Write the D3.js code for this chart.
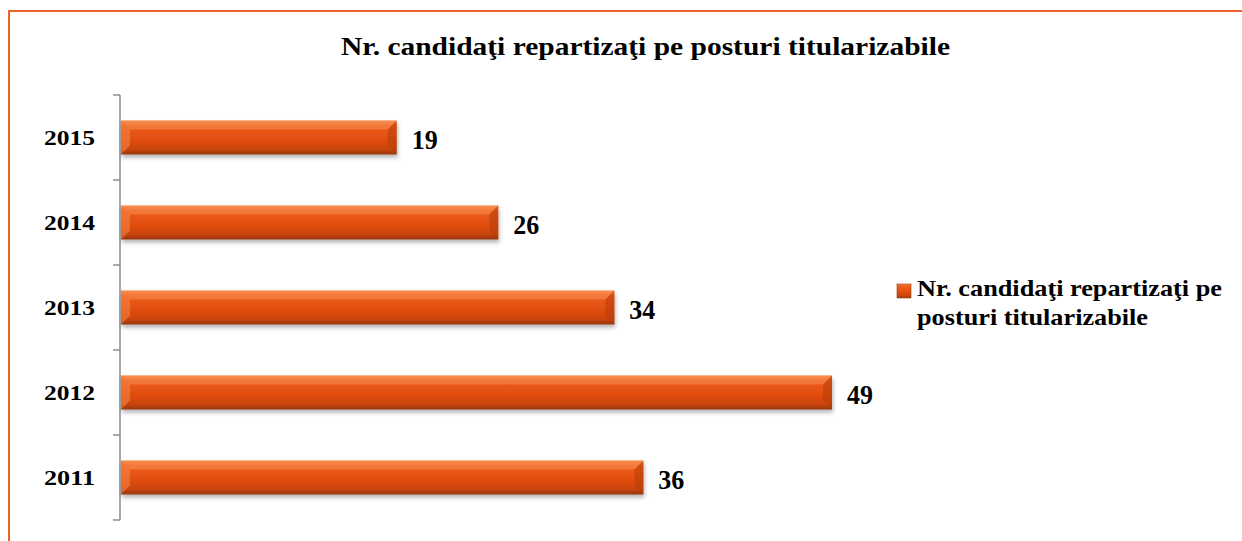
<!DOCTYPE html>
<html>
<head>
<meta charset="utf-8">
<script src="https://cdn.jsdelivr.net/npm/d3@7"></script>
<style>
  body { margin: 0; background: #fff; }
  svg text { font-family: "Liberation Serif", "Times New Roman", serif; font-weight: bold; fill: #000; }
</style>
</head>
<body>
<script>
const years = ['2015', '2014', '2013', '2012', '2011'];
const values = [19, 26, 34, 49, 36];
const seriesName = 'Nr. candidaţi repartizaţi pe posturi titularizabile';
const legendLines = ['Nr. candidaţi repartizaţi pe', 'posturi titularizabile'];

const width = 1242, height = 541;

const svg = d3.select('body')
  .append('svg')
  .attr('width', width)
  .attr('height', height);

// chart frame (only left and top edges are inside the picture)
svg.append('path')
  .attr('d', 'M9,541 V11 H1242')
  .attr('fill', 'none')
  .attr('stroke', '#F0602A')
  .attr('stroke-width', 2);

const defs = svg.append('defs');
const grad = defs.append('linearGradient')
  .attr('id', 'barGrad')
  .attr('x1', 0).attr('y1', 0).attr('x2', 0).attr('y2', 1);
grad.append('stop').attr('offset', '0%').attr('stop-color', '#F7884A');
grad.append('stop').attr('offset', '15%').attr('stop-color', '#EE5E1C');
grad.append('stop').attr('offset', '60%').attr('stop-color', '#E04C0E');
grad.append('stop').attr('offset', '85%').attr('stop-color', '#C8440F');
grad.append('stop').attr('offset', '100%').attr('stop-color', '#963610');

const shadow = defs.append('filter')
  .attr('id', 'shadow')
  .attr('x', '-5%').attr('y', '-20%').attr('width', '110%').attr('height', '160%');
shadow.append('feDropShadow')
  .attr('dx', 1).attr('dy', 3).attr('stdDeviation', 2)
  .attr('flood-color', '#000').attr('flood-opacity', 0.3);

const x = d3.scaleLinear()
  .domain([0, 49])
  .range([121, 832]);

const y = d3.scaleBand()
  .domain(years)
  .range([95, 520])
  .padding(0);

const barH = y.bandwidth() * 0.4;

// category axis
const yAxis = d3.axisLeft(y)
  .tickSize(0)
  .tickFormat('');
const axisG = svg.append('g')
  .attr('transform', 'translate(120,0)')
  .call(yAxis);
axisG.select('.domain').remove();
axisG.append('line')
  .attr('x1', 0).attr('x2', 0)
  .attr('y1', 95).attr('y2', 520)
  .attr('stroke', '#8c8c8c').attr('stroke-width', 1.5);
axisG.selectAll('.sep')
  .data(d3.range(years.length + 1))
  .enter()
  .append('line')
  .attr('x1', -7).attr('x2', 0)
  .attr('y1', i => 95 + i * y.step())
  .attr('y2', i => 95 + i * y.step())
  .attr('stroke', '#8c8c8c').attr('stroke-width', 1.5);

svg.selectAll('.ylab')
  .data(years)
  .enter()
  .append('text')
  .attr('x', 44)
  .attr('y', d => y(d) + y.bandwidth() / 2 + 7)
  .attr('textLength', 51)
  .attr('lengthAdjust', 'spacingAndGlyphs')
  .style('font-size', '22px')
  .text(d => d);

// bars
const data = years.map((yr, i) => ({ year: yr, value: values[i] }));
const bars = svg.selectAll('.bar')
  .data(data)
  .enter()
  .append('g')
  .attr('class', 'bar');

bars.append('rect')
  .attr('x', x(0))
  .attr('y', d => y(d.year) + (y.bandwidth() - barH) / 2)
  .attr('width', d => x(d.value) - x(0))
  .attr('height', barH)
  .attr('fill', 'url(#barGrad)')
  .attr('filter', 'url(#shadow)');

// bevel edges
const bev = 9;
bars.append('path')
  .attr('d', d => {
    const y0 = y(d.year) + (y.bandwidth() - barH) / 2, x0 = x(0);
    return `M${x0},${y0} L${x0 + bev},${y0 + bev} L${x0 + bev},${y0 + barH - bev} L${x0},${y0 + barH} Z`;
  })
  .attr('fill', '#F58648').attr('opacity', 0.55);
bars.append('path')
  .attr('d', d => {
    const y0 = y(d.year) + (y.bandwidth() - barH) / 2, x1 = x(d.value);
    return `M${x1},${y0} L${x1 - bev},${y0 + bev} L${x1 - bev},${y0 + barH - bev} L${x1},${y0 + barH} Z`;
  })
  .attr('fill', '#B23E0C').attr('opacity', 0.55);
bars.append('path')
  .attr('d', d => {
    const y0 = y(d.year) + (y.bandwidth() - barH) / 2, x0 = x(0), x1 = x(d.value);
    return `M${x0},${y0} L${x1},${y0} L${x1 - bev},${y0 + bev} L${x0 + bev},${y0 + bev} Z`;
  })
  .attr('fill', '#FA9A60').attr('opacity', 0.45);

bars.append('text')
  .attr('x', d => x(d.value) + 15)
  .attr('y', d => y(d.year) + y.bandwidth() / 2 + 11)
  .attr('textLength', 26)
  .attr('lengthAdjust', 'spacingAndGlyphs')
  .style('font-size', '27px')
  .text(d => d.value);

// title
svg.append('text')
  .attr('x', 341)
  .attr('y', 55)
  .attr('textLength', 609)
  .attr('lengthAdjust', 'spacingAndGlyphs')
  .style('font-size', '25px')
  .text(seriesName);

// legend
const leg = svg.append('g').attr('transform', 'translate(897,284)');
leg.append('rect')
  .attr('width', 14).attr('height', 14)
  .attr('fill', 'url(#barGrad)')
  .attr('stroke', '#A03A10').attr('stroke-width', 0.6);
const legLens = [305, 231];
leg.selectAll('text')
  .data(legendLines)
  .enter()
  .append('text')
  .attr('x', 20)
  .attr('y', (d, i) => 12 + i * 29)
  .attr('textLength', (d, i) => legLens[i])
  .attr('lengthAdjust', 'spacingAndGlyphs')
  .style('font-size', '24px')
  .text(d => d);
</script>
</body>
</html>
